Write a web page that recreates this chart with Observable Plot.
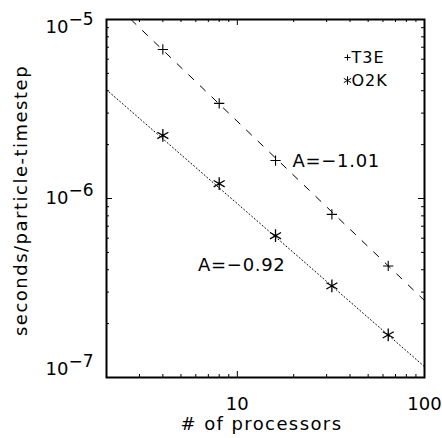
<!DOCTYPE html>
<html><head><meta charset="utf-8">
<script src="https://cdn.jsdelivr.net/npm/d3@7"></script>
<script src="https://cdn.jsdelivr.net/npm/@observablehq/plot@0.6"></script>
<style>body{margin:0;background:#fff}</style>
</head><body><div id="chart"></div>
<script>
// ---- data ----
const processors = [4, 8, 16, 32, 64];
const t3eTime = [6.8e-6, 3.4e-6, 1.63e-6, 8.15e-7, 4.2e-7];
const o2kTime = [2.25e-6, 1.21e-6, 6.2e-7, 3.25e-7, 1.73e-7];
const t3eFitX = [2.7, 100];
const t3eFitY = [1.0e-5, 2.69e-7];
const o2kFitX = [2, 100];
const o2kFitY = [4.05e-6, 1.15e-7];
const fitLabels = ["A=\u22121.01", "A=\u22120.92"];
const seriesNames = ["T3E", "O2K"];
const seriesSymbols = ["plus", "asterisk"];
const xTickValues = [10, 100];
const xTickLabels = ["10", "100"];
const yTickValues = [1e-7, 1e-6, 1e-5];
const yTickBase = "10";
const yTickExponents = ["\u22127", "\u22126", "\u22125"];
const xMinorTicks = [3, 4, 5, 6, 7, 8, 9, 20, 30, 40, 50, 60, 70, 80, 90];
const xMajorTicks = [10];
const yMinorTicks = [2e-7, 3e-7, 4e-7, 5e-7, 6e-7, 7e-7, 8e-7, 9e-7, 2e-6, 3e-6, 4e-6, 5e-6, 6e-6, 7e-6, 8e-6, 9e-6];
const yMajorTicks = [1e-6];
const xTitle = "# of processors";
const yTitle = "seconds/particle-timestep";

// ---- layout ----
const W = 442, H = 438;
const mL = 106, mR = 18, mT = 19, mB = 61;
const fw = W - mL - mR, fh = H - mT - mB;
const minorLen = 3, majorLen = 6;
const font = "DejaVu Sans";

const t3e = processors.map((p, i) => ({p, t: t3eTime[i]}));
const o2k = processors.map((p, i) => ({p, t: o2kTime[i]}));
const t3eFit = t3eFitX.map((x, i) => ({x, y: t3eFitY[i]}));
const o2kFit = o2kFitX.map((x, i) => ({x, y: o2kFitY[i]}));

const tickMarks = [];
for (const [vals, len] of [[xMinorTicks, minorLen], [xMajorTicks, majorLen]]) {
  tickMarks.push(Plot.ruleX(vals, {x: d => d, insetTop: fh - len, stroke: "black", strokeWidth: 1}));
  tickMarks.push(Plot.ruleX(vals, {x: d => d, insetBottom: fh - len, stroke: "black", strokeWidth: 1}));
}
for (const [vals, len] of [[yMinorTicks, minorLen], [yMajorTicks, majorLen]]) {
  tickMarks.push(Plot.ruleY(vals, {y: d => d, insetRight: fw - len, stroke: "black", strokeWidth: 1}));
  tickMarks.push(Plot.ruleY(vals, {y: d => d, insetLeft: fw - len, stroke: "black", strokeWidth: 1}));
}

const yMax = d3.max(yTickValues), yMin = d3.min(yTickValues);
const yLabelMarks = [];
yTickValues.forEach((v, i) => {
  const shift = v === yMax ? 8 : v === yMin ? -8 : 0;
  yLabelMarks.push(Plot.text([v], {y: d => d, text: () => yTickBase, frameAnchor: "left",
    textAnchor: "end", lineAnchor: "middle", dx: -38, dy: shift, fontSize: 18, fill: "black"}));
  yLabelMarks.push(Plot.text([v], {y: d => d, text: () => yTickExponents[i], frameAnchor: "left",
    textAnchor: "start", lineAnchor: "middle", dx: -38, dy: shift - 8, fontSize: 17, fill: "black"}));
});

const legendMarks = [];
seriesNames.forEach((name, i) => {
  legendMarks.push(Plot.dot([name], {frameAnchor: "top-right", symbol: seriesSymbols[i],
    r: i === 0 ? 2.1 : 4, stroke: "black", strokeWidth: 1, dx: -77, dy: 38 + i * 23}));
  legendMarks.push(Plot.text([name], {text: d => d, frameAnchor: "top-right", textAnchor: "start",
    lineAnchor: "middle", dx: -73, dy: 38 + i * 23, fontSize: 16, fill: "black"}));
});

const chart = Plot.plot({
  width: W, height: H,
  marginLeft: mL, marginRight: mR, marginTop: mT, marginBottom: mB,
  style: {fontFamily: font, background: "white", color: "black"},
  x: {type: "log", domain: [2, 100], axis: null},
  y: {type: "log", domain: [1e-7, 1e-5], axis: null},
  marks: [
    Plot.line(o2kFit, {x: "x", y: "y", stroke: "black", strokeWidth: 1, strokeDasharray: "1,2.5", clip: true}),
    Plot.line(t3eFit, {x: "x", y: "y", stroke: "black", strokeWidth: 1, strokeDasharray: "7,9", clip: true}),
    Plot.dot(t3e, {x: "p", y: "t", symbol: "plus", r: 3.4, stroke: "black", strokeWidth: 1.1}),
    Plot.dot(o2k, {x: "p", y: "t", symbol: "asterisk", r: 6, stroke: "black", strokeWidth: 1.3}),
    ...tickMarks,
    Plot.frame({stroke: "black", strokeWidth: 2}),
    Plot.text(xTickValues, {x: d => d, text: (d, i) => xTickLabels[i], frameAnchor: "bottom",
      lineAnchor: "top", dy: 20, fontSize: 18, fill: "black"}),
    ...yLabelMarks,
    Plot.text([fitLabels[0]], {x: () => processors[2], y: () => t3eTime[2], text: d => d,
      textAnchor: "start", lineAnchor: "middle", dx: 17, dy: 1, fontSize: 18, fill: "black"}),
    Plot.text([fitLabels[1]], {x: () => processors[2], y: () => o2kTime[2], text: d => d,
      textAnchor: "end", lineAnchor: "middle", dx: 10, dy: 30, fontSize: 18, fill: "black"}),
    ...legendMarks,
    Plot.text([xTitle], {text: d => d, frameAnchor: "bottom", textAnchor: "middle", lineAnchor: "middle",
      dx: -4, dy: 47, fontSize: 18, fill: "black"}),
    Plot.text([yTitle], {text: d => d, frameAnchor: "left", textAnchor: "middle", rotate: -90, lineAnchor: "middle",
      dx: -85, dy: 2, fontSize: 18, fill: "black"})
  ]
});
const spacing = new Map([[xTitle, "1.4px"], [yTitle, "1.5px"], [fitLabels[0], "0.7px"], [fitLabels[1], "0.7px"],
  [seriesNames[0], "1px"], [seriesNames[1], "1px"]]);
d3.select(chart).selectAll("text").each(function () {
  const s = spacing.get(this.textContent);
  if (s) this.style.letterSpacing = s;
});
document.getElementById("chart").appendChild(chart);
</script>
</body></html>
